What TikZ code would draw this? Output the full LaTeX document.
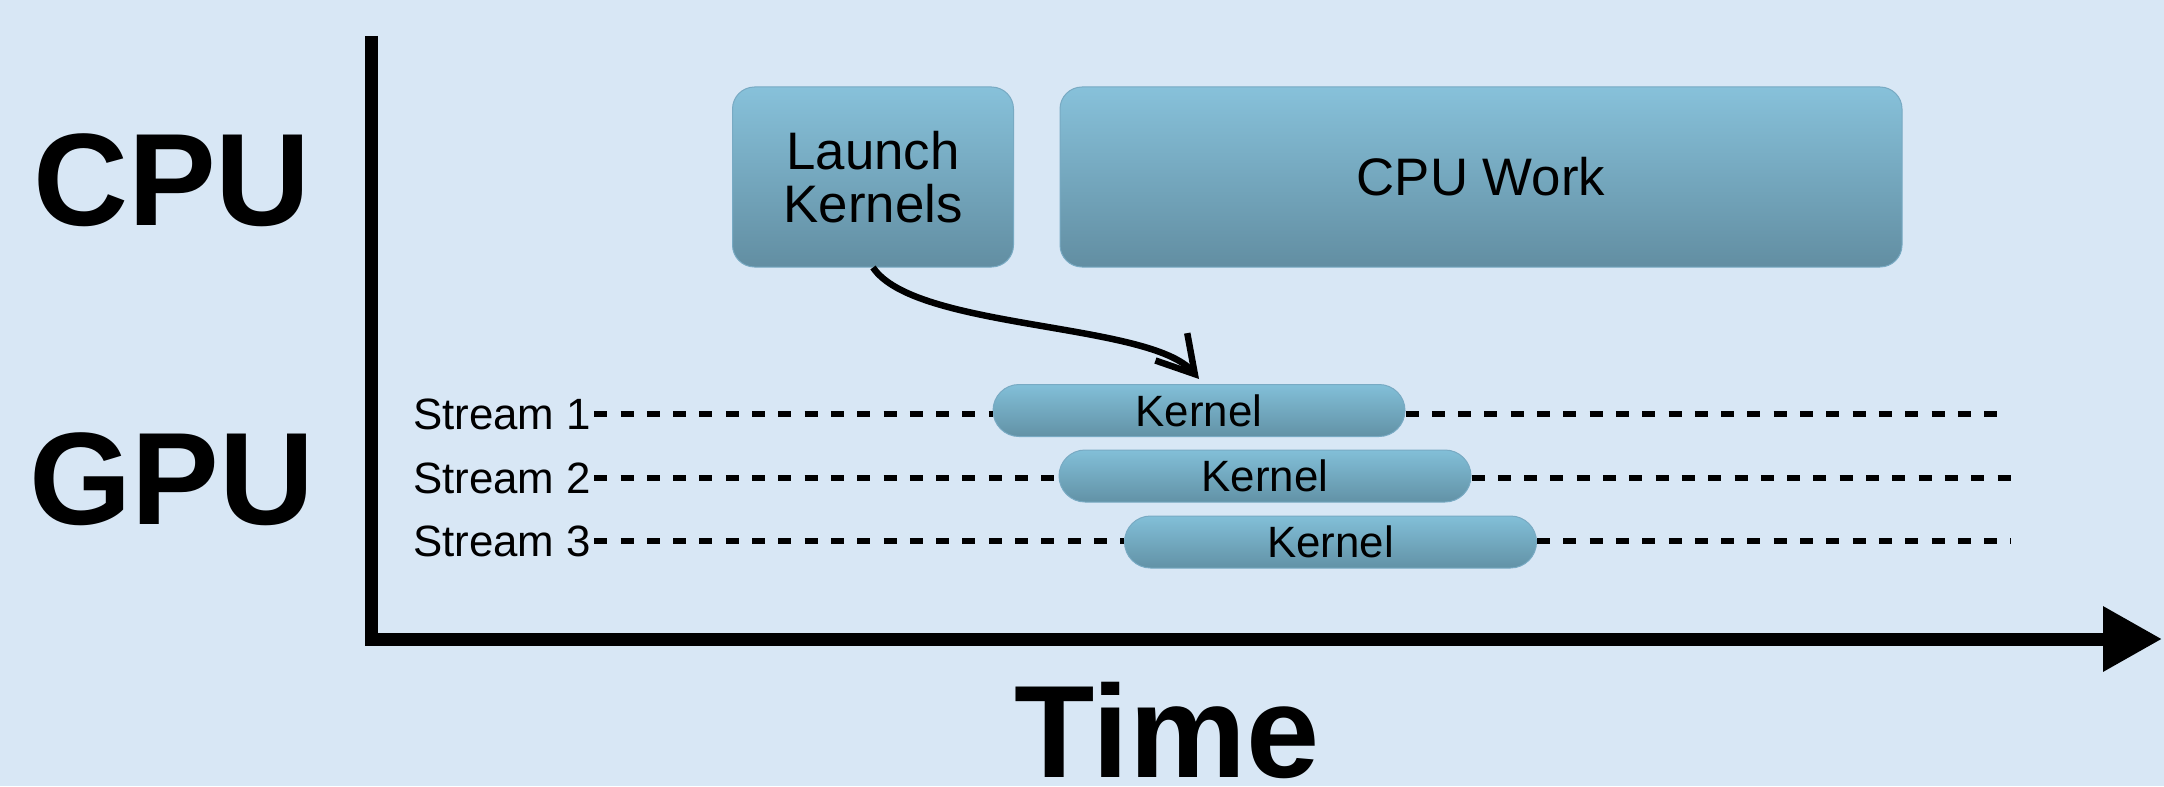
\documentclass[tikz,border=0pt]{standalone}
\usepackage{fontspec}
\setmainfont{Liberation Sans}
\usetikzlibrary{arrows.meta}
\definecolor{bg}{RGB}{216,231,245}
\definecolor{boxtop}{RGB}{135,193,218}
\definecolor{boxbot}{RGB}{98,142,162}
\definecolor{boxedge}{RGB}{120,170,195}
\definecolor{pilltop}{RGB}{130,191,216}
\definecolor{pillbot}{RGB}{98,146,166}
\begin{document}
\begin{tikzpicture}[x=1bp,y=-1bp,
  cpubox/.style={rectangle, rounded corners=22bp, top color=boxtop, bottom color=boxbot, draw=boxedge, line width=1bp, minimum height=180bp, inner sep=0pt, align=center, font=\fontsize{53}{53}\selectfont},
  pill/.style={rectangle, rounded corners=26bp, top color=pilltop, bottom color=pillbot, draw=boxedge, line width=1bp, minimum width=412bp, minimum height=52bp, inner sep=0pt, font=\fontsize{44}{44}\selectfont},
  streamlbl/.style={anchor=west, inner xsep=3bp, inner ysep=0pt, font=\fontsize{44}{44}\selectfont},
  biglbl/.style={font=\fontsize{132}{132}\selectfont\bfseries, inner sep=0pt},
  streamline/.style={line width=6bp, dash pattern=on 13bp off 13.3bp},
  axis/.style={line width=13bp},
  link/.style={line width=6.5bp, -{Straight Barb[length=36bp,width=42bp]}}
]
\fill[bg] (0,0) rectangle (2164,786);
\useasboundingbox (0,0) rectangle (2164,786);

\node[cpubox, minimum width=281bp] (launch) at (873,177) {Launch\\Kernels};
\node[cpubox, minimum width=842bp] (work) at (1481,177) {CPU Work};

\node[pill] (k1) at (1199,410.5) {Kernel};
\node[pill] (k2) at (1265,476) {Kernel};
\node[pill] (k3) at (1330.5,542) {Kernel};

\node[streamlbl] (s1) at (410,414) {Stream 1};
\node[streamlbl] (s2) at (410,478) {Stream 2};
\node[streamlbl] (s3) at (410,541) {Stream 3};

\coordinate (e1) at (2002,414);
\coordinate (e2) at (2011,478);
\coordinate (e3) at (2011,541);

\draw[streamline] (s1.east) -- (s1.east -| k1.west);
\draw[streamline] (k1.east |- s1.east) -- (e1);
\draw[streamline] (s2.east) -- (s2.east -| k2.west);
\draw[streamline] (k2.east |- s2.east) -- (e2);
\draw[streamline] (s3.east) -- (s3.east -| k3.west);
\draw[streamline] (k3.east |- s3.east) -- (e3);

\node[biglbl] (cpu) at (172,180) {CPU};
\node[biglbl] (gpu) at (172,479) {GPU};
\node[biglbl] (time) at (1167,730) {Time};

\coordinate (ytop) at (371,36);
\coordinate (origin) at (371,639);
\coordinate (xend) at (2162,639);
\draw[axis, -{Triangle[length=59bp,width=62bp]}] (ytop) -- (origin) -- (xend);

\draw[link] (launch.south) .. controls (915,330) and (1150,322) .. ([yshift=5bp]k1.north);
\end{tikzpicture}
\end{document}
